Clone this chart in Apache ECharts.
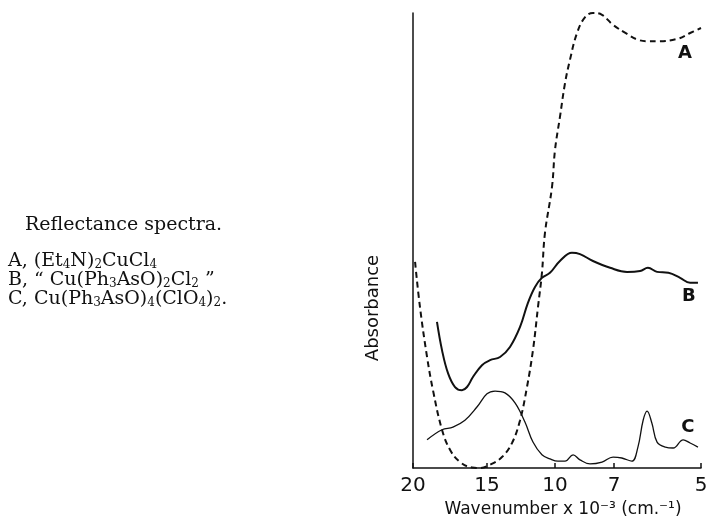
<!DOCTYPE html>
<html>
<head>
<meta charset="utf-8">
<script src="https://cdn.jsdelivr.net/npm/echarts@6/dist/echarts.min.js"></script>
<style>
  html, body { margin: 0; padding: 0; background: #fff; }
  #chart { width: 706px; height: 524px; }
</style>
</head>
<body>
<div id="chart"></div>
<script>
  // printed wavenumber scale of the instrument chart (x 10^-3 cm-1), not linear
  var tickWn = [20, 15, 10, 7, 5]
  var tickPos = [0, 74, 142, 201, 288]

  // A, (Et4N)2CuCl4  (dashed)
  var aWn = [19.86, 19.53, 19.05, 18.65, 18.04, 17.5, 16.82, 16.01, 15.47, 14.78, 13.9, 13.16, 12.57, 12.06, 11.62, 11.25, 10.96, 10.74, 10.22, 10.0, 9.75, 9.49, 9.24, 8.88, 8.47, 8.07, 7.61, 7.05, 6.7, 6.47, 6.25, 6.01, 5.55, 5.25, 5.0]
  var aAbs = [45.3, 35.4, 24.4, 17.1, 8.4, 4.0, 1.3, 0.1, 0.0, 0.7, 2.4, 5.5, 10.5, 17.8, 25.9, 35.4, 42.9, 51.6, 61.8, 69.9, 77.1, 84.6, 89.7, 95.6, 99.1, 100, 99.6, 97.4, 95.4, 94.2, 93.8, 93.8, 94.3, 95.6, 96.7]

  // B, "Cu(Ph3AsO)2Cl2"
  var bWn = [18.38, 18.04, 17.64, 17.16, 16.69, 16.35, 15.95, 15.34, 14.78, 14.04, 13.31, 12.57, 11.99, 11.47, 10.96, 10.37, 9.75, 9.14, 8.73, 8.07, 7.2, 6.7, 6.4, 6.22, 6.01, 5.75, 5.48, 5.25, 5.07]
  var bAbs = [32.1, 25.9, 20.9, 17.8, 17.1, 17.8, 20.0, 22.6, 23.7, 24.4, 26.6, 31.0, 36.3, 39.8, 41.8, 42.9, 45.5, 47.3, 47.0, 45.5, 44.0, 43.1, 43.3, 44.0, 43.1, 42.9, 41.8, 40.7, 40.7]

  // C, Cu(Ph3AsO)4(ClO4)2
  var cWn = [19.05, 18.04, 17.3, 16.49, 15.68, 15.0, 14.41, 13.68, 12.94, 12.21, 11.62, 10.96, 10.37, 9.85, 9.49, 9.08, 8.73, 8.22, 7.61, 7.05, 6.82, 6.59, 6.45, 6.33, 6.24, 6.13, 6.01, 5.82, 5.64, 5.41, 5.25, 5.07]
  var cAbs = [6.2, 8.4, 9.0, 10.5, 13.4, 16.3, 16.9, 16.5, 14.3, 10.1, 5.7, 2.9, 2.0, 1.5, 1.5, 2.9, 1.8, 0.9, 1.3, 2.4, 2.2, 1.5, 4.6, 10.5, 12.5, 9.9, 5.7, 4.6, 4.4, 6.2, 5.5, 4.6]

  // wavenumber -> position on the printed scale
  function toPos (wn) {
    for (var i = 0; i < tickWn.length - 1; i++) {
      if (wn <= tickWn[i] && wn >= tickWn[i + 1]) {
        var t = (tickWn[i] - wn) / (tickWn[i] - tickWn[i + 1])
        return tickPos[i] + t * (tickPos[i + 1] - tickPos[i])
      }
    }
    return wn > tickWn[0] ? tickPos[0] : tickPos[tickPos.length - 1]
  }
  function pairs (wn, abs) {
    return wn.map(function (w, i) { return [toPos(w), abs[i]] })
  }

  var sans = '"DejaVu Sans", sans-serif'
  var serif = '"DejaVu Serif", serif'
  var rich = {
    n: { fontFamily: serif, fontSize: 19, color: '#111', lineHeight: 22, verticalAlign: 'bottom' },
    s: { fontFamily: serif, fontSize: 12, color: '#111', lineHeight: 9, verticalAlign: 'bottom' }
  }
  function line (y, x, text) {
    return {
      type: 'text', left: x, top: y,
      style: { text: text, rich: rich, fill: '#111' }
    }
  }

  var chart = echarts.init(document.getElementById('chart'))
  var option = {
    backgroundColor: '#fff',
    animation: false,
    grid: { left: 413, right: 5, top: 13, bottom: 56, containLabel: false, outerBoundsMode: 'none' },
    xAxis: {
      type: 'value',
      min: 0,
      max: 288,
      name: 'Wavenumber x 10⁻³ (cm.⁻¹)',
      nameLocation: 'middle',
      nameGap: 30,
      nameTextStyle: { fontFamily: sans, fontSize: 17, color: '#111', padding: [0, 0, 0, 12] },
      axisLine: { show: true, lineStyle: { color: '#111', width: 1.5 } },
      axisTick: { show: true, inside: true, length: 5, customValues: tickPos, lineStyle: { color: '#111', width: 1.5 } },
      axisLabel: {
        customValues: tickPos,
        margin: 8,
        fontFamily: sans,
        fontSize: 20,
        fontWeight: 500,
        color: '#111',
        formatter: function (v) {
          var i = tickPos.indexOf(v)
          return i >= 0 ? String(tickWn[i]) : ''
        }
      },
      splitLine: { show: false }
    },
    yAxis: {
      type: 'value',
      min: 0,
      max: 100,
      axisLine: { show: true, lineStyle: { color: '#111', width: 1.5 } },
      axisTick: { show: false },
      axisLabel: { show: false },
      splitLine: { show: false }
    },
    graphic: [
      line(216, 25, '{n|Reflectance spectra.}'),
      line(252, 8, '{n|A, (Et}{s|4}{n|N)}{s|2}{n|CuCl}{s|4}'),
      line(271, 8, '{n|B, “ Cu(Ph}{s|3}{n|AsO)}{s|2}{n|Cl}{s|2}{n| ”}'),
      line(290, 8, '{n|C, Cu(Ph}{s|3}{n|AsO)}{s|4}{n|(ClO}{s|4}{n|)}{s|2}{n|.}'),
      {
        type: 'text', x: 373, y: 308, rotation: Math.PI / 2,
        style: { text: 'Absorbance', fontFamily: sans, fontSize: 18, fill: '#111', align: 'center', verticalAlign: 'middle' }
      }
    ],
    series: [
      {
        name: 'A', type: 'line', data: pairs(aWn, aAbs), showSymbol: false, smooth: 0.4,
        lineStyle: { color: '#111', width: 2, type: [6, 4] },
        endLabel: { show: true, formatter: 'A', fontFamily: sans, fontSize: 18, fontWeight: 'bold', color: '#111', align: 'center', verticalAlign: 'middle', distance: 0, offset: [-16, 25] }
      },
      {
        name: 'B', type: 'line', data: pairs(bWn, bAbs), showSymbol: false, smooth: 0.4,
        lineStyle: { color: '#111', width: 2 },
        endLabel: { show: true, formatter: 'B', fontFamily: sans, fontSize: 18, fontWeight: 'bold', color: '#111', align: 'center', verticalAlign: 'middle', distance: 0, offset: [-9, 14] }
      },
      {
        name: 'C', type: 'line', data: pairs(cWn, cAbs), showSymbol: false, smooth: 0.4,
        lineStyle: { color: '#111', width: 1.3 },
        endLabel: { show: true, formatter: 'C', fontFamily: sans, fontSize: 18, fontWeight: 'bold', color: '#111', align: 'center', verticalAlign: 'middle', distance: 0, offset: [-10, -20] }
      }
    ]
  }
  chart.setOption(option)
</script>
</body>
</html>
